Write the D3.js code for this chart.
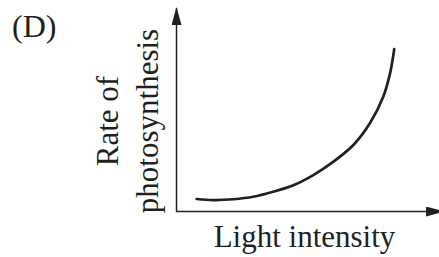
<!DOCTYPE html>
<html>
<head>
<meta charset="utf-8">
<script src="https://cdn.jsdelivr.net/npm/d3@7"></script>
<style>
  html, body { margin: 0; padding: 0; background: #fff; }
  text { font-family: "Liberation Serif", "Times New Roman", serif; fill: #231f20; }
</style>
</head>
<body>
<div id="chart"></div>
<script>
// Curve (arbitrary units 0..10 on each axis)
const lightIntensity = [0.79, 1.42, 2.19, 2.95, 3.71, 4.48, 5.24, 6.01, 6.77, 7.40, 7.91, 8.17, 8.33];
const photoRate      = [0.59, 0.54, 0.58, 0.70, 0.95, 1.27, 1.77, 2.43, 3.25, 4.32, 5.63, 6.78, 7.98];
const xDomain = [0, 10];
const yDomain = [0, 10];
const panelLabel = "(D)";
const xLabel = "Light intensity";
const yLabelLines = ["Rate of", "photosynthesis"];

const width = 439;
const height = 257;
const ink = "#231f20";

const svg = d3.select("#chart")
  .append("svg")
    .attr("width", width)
    .attr("height", height);

// Axis origin at (176, 211)
const x = d3.scaleLinear().domain(xDomain).range([176, 438]);
const y = d3.scaleLinear().domain(yDomain).range([211, 8]);

// Arrow heads, tip sits on the end of the line
const defs = svg.append("defs");
defs.append("marker")
    .attr("id", "arrow")
    .attr("viewBox", "0 0 18 10")
    .attr("refX", 17)
    .attr("refY", 5)
    .attr("markerUnits", "userSpaceOnUse")
    .attr("markerWidth", 18)
    .attr("markerHeight", 10)
    .attr("orient", "auto")
  .append("path")
    .attr("d", "M0,0L18,5L0,10Z")
    .attr("fill", ink);

// x axis (no ticks)
const xAxis = svg.append("g")
  .attr("transform", `translate(0,${y(0)})`)
  .call(d3.axisBottom(x).ticks(0).tickSizeOuter(0));
xAxis.select(".domain")
  .attr("stroke", ink)
  .attr("stroke-width", 1.5)
  .attr("d", `M${x(0)},0.5H${x(10) + 5}`)
  .attr("marker-end", "url(#arrow)");

// y axis (no ticks)
const yAxis = svg.append("g")
  .attr("transform", `translate(${x(0)},0)`)
  .call(d3.axisLeft(y).ticks(0).tickSizeOuter(0));
yAxis.select(".domain")
  .attr("stroke", ink)
  .attr("stroke-width", 1.5)
  .attr("d", `M0.5,${y(0) + 0.5}V${y(10)}`)
  .attr("marker-end", "url(#arrow)");

// The curve
const line = d3.line()
  .x((d, i) => x(lightIntensity[i]))
  .y(d => y(d))
  .curve(d3.curveCatmullRom.alpha(0.5));

svg.append("path")
  .datum(photoRate)
  .attr("d", line)
  .attr("fill", "none")
  .attr("stroke", ink)
  .attr("stroke-width", 2.7)
  .attr("stroke-linecap", "round");

// Labels
svg.append("text")
  .attr("x", 12)
  .attr("y", 37)
  .attr("font-size", 32)
  .text(panelLabel);

svg.append("text")
  .attr("x", 304.5)
  .attr("y", 247)
  .attr("text-anchor", "middle")
  .attr("font-size", 31)
  .text(xLabel);

const yLabel = svg.append("text")
  .attr("transform", "translate(118,121) rotate(-90)")
  .attr("text-anchor", "middle")
  .attr("font-size", 31);
yLabel.append("tspan").attr("x", 0).attr("y", 0).text(yLabelLines[0]);
yLabel.append("tspan").attr("x", 0).attr("y", 40).text(yLabelLines[1]);
</script>
</body>
</html>
